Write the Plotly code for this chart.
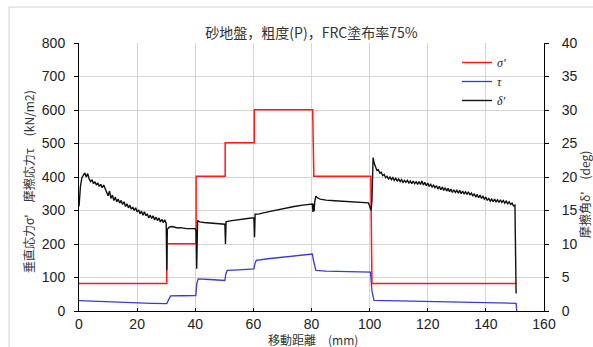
import plotly.graph_objects as go

# ---------------- data ----------------
sigma_x = [0, 30.2, 30.2, 40.3, 40.3, 50.3, 50.3, 60.3, 60.3, 80.4, 80.8, 100.4, 100.8, 150.5]
sigma_y = [82, 82, 201, 201, 402, 402, 502, 502, 601, 601, 402, 402, 82, 82]

tau_x = [0, 5, 10, 15, 20, 25, 30.2, 30.6, 31.5, 35, 40.2, 40.5, 41, 45, 50.2, 50.5, 51, 55,
         60.2, 60.5, 61, 65, 70, 75, 80.3, 80.7, 81.5, 85, 90, 95, 100.3, 100.8, 101.5,
         110, 120, 130, 140, 150.4, 150.6]
tau_y = [31, 29, 27.5, 26, 24.5, 23, 22, 30, 45, 45.5, 46, 80, 96, 94, 91, 110, 121, 123,
         126, 140, 151, 156, 161, 165, 170, 150, 121, 119, 118, 117, 116, 60, 32,
         30, 28, 26, 24.5, 23, 0]

# delta' : 0 - 30 mm, sampled every 0.5 mm
delta_a_start, delta_a_step = 0.0, 0.5
delta_a = [15.6, 18.6, 19.9, 20.3, 20.6, 20.0, 20.5, 19.7, 19.3, 19.6,
           19.0, 19.3, 18.8, 19.1, 18.6, 18.9, 18.4, 18.8, 18.3, 17.9,
           17.2, 17.9, 16.8, 17.3, 16.5, 17.0, 16.3, 16.7, 16.1, 16.5,
           15.9, 16.3, 15.6, 16.0, 15.4, 15.8, 15.2, 15.5, 15.0, 15.4,
           14.8, 15.1, 14.5, 14.9, 14.3, 14.8, 14.2, 14.5, 13.9, 14.3,
           13.8, 14.2, 13.6, 14.0, 13.5, 13.9, 13.3, 13.7, 13.2, 13.6,
           13.1]
# delta' : 30 - 102 mm
delta_b_x = [30.2, 30.4, 31, 32, 33, 34, 35, 36, 37, 38, 39, 40.0, 40.3, 40.5, 40.8, 41.5,
             43, 45, 47, 49, 50.2, 50.4, 50.6, 52, 54, 56, 58, 60.2, 60.4, 60.6, 62, 65,
             68, 71, 74, 77, 80.3, 80.5, 80.7, 80.9, 81.1, 81.5, 82, 83, 85, 88, 91, 94,
             97, 99.6, 100.2, 100.5, 100.8, 101.2, 101.6]
delta_b_y = [6.1, 12.2, 12.5, 12.6, 12.5, 12.4, 12.45, 12.35, 12.3, 12.3, 12.25, 12.3, 11.8,
             6.3, 13.5, 13.3, 13.2, 13.1, 13.05, 13.0, 12.95, 10.0, 13.3, 13.45, 13.6, 13.7,
             13.8, 13.9, 11.0, 14.45, 14.5, 14.8, 15.1, 15.35, 15.6, 15.8, 15.95, 14.8, 16.0,
             14.9, 16.3, 17.15, 16.9, 16.7, 16.55, 16.45, 16.35, 16.3, 16.25, 16.15, 15.4,
             15.0, 16.5, 22.9, 22.0]
# delta' : 102 - 150 mm, sampled every 0.5 mm
delta_c_start, delta_c_step = 102.0, 0.5
delta_c = [21.5, 21.0, 21.1, 20.6, 20.7, 20.2, 20.4, 19.9, 20.1, 19.7,
           20.0, 19.6, 19.9, 19.5, 19.8, 19.4, 19.7, 19.3, 19.6, 19.2,
           19.5, 19.2, 19.5, 19.1, 19.4, 19.0, 19.4, 19.0, 19.3, 18.9,
           19.3, 18.9, 19.4, 18.8, 19.2, 18.7, 19.1, 18.6, 18.9, 18.5,
           18.8, 18.4, 18.7, 18.2, 18.6, 18.1, 18.5, 18.0, 18.4, 17.9,
           18.3, 17.8, 18.2, 17.7, 18.1, 17.7, 18.0, 17.6, 18.0, 17.5,
           17.9, 17.5, 17.8, 17.4, 17.8, 17.3, 17.6, 17.2, 17.5, 17.0,
           17.4, 16.9, 17.3, 16.8, 17.1, 16.7, 17.0, 16.5, 16.8, 16.4,
           16.7, 16.3, 16.7, 16.3, 16.6, 16.2, 16.6, 16.2, 16.5, 16.1,
           16.4, 16.0, 16.3, 15.9, 16.1, 15.7, 15.8]
delta_end_x = [150.4]
delta_end_y = [2.6]

x_ticks = [0, 20, 40, 60, 80, 100, 120, 140, 160]
title_text = "砂地盤，粗度(P)，FRC塗布率75%"
x_title = "移動距離　(mm)"
y1_title = "垂直応力σ'　摩擦応力τ　(kN/m2)"
y2_title = "摩擦角δ'　(deg)"
legend_names = ["<i>σ'</i>", "<i>τ</i>", "<i>δ'</i>"]

# ---------------- assemble delta' ----------------
delta_x = [delta_a_start + delta_a_step * i for i in range(len(delta_a))]
delta_y = list(delta_a)
delta_x += delta_b_x
delta_y += delta_b_y
delta_x += [delta_c_start + delta_c_step * i for i in range(len(delta_c))]
delta_y += delta_c
delta_x += delta_end_x
delta_y += delta_end_y

# ---------------- layout geometry ----------------
W, H = 593, 347
L, R, T, B = 79, 49, 43, 36
PW, PH = W - L - R, H - T - B


def px(xpix):
    return (xpix - L) / PW


def py(ypix):
    return (H - B - ypix) / PH


fig = go.Figure()
fig.add_trace(go.Scatter(x=sigma_x, y=sigma_y, mode="lines", name=legend_names[0],
                         line=dict(color="#ff1a1a", width=1.5)))
fig.add_trace(go.Scatter(x=tau_x, y=tau_y, mode="lines", name=legend_names[1],
                         line=dict(color="#3a3acf", width=1.3)))
fig.add_trace(go.Scatter(x=delta_x, y=delta_y, mode="lines", name=legend_names[2],
                         yaxis="y2", line=dict(color="#111111", width=1.4)))

tickfont = dict(family="Liberation Sans, Arial, sans-serif", size=14, color="#222222")
cjk = "Noto Sans CJK JP, sans-serif"

fig.update_layout(
    width=W, height=H,
    margin=dict(l=L, r=R, t=T, b=B, pad=0),
    paper_bgcolor="white", plot_bgcolor="white",
    showlegend=True,
    legend=dict(x=px(457), y=py(48), xanchor="left", yanchor="top",
                bgcolor="rgba(0,0,0,0)", borderwidth=0,
                font=dict(family="Liberation Serif, serif", size=12, color="#222222"),
                tracegroupgap=0),
    title=dict(text=title_text, x=0.5, xref="paper", xanchor="center",
               y=1 - 33 / H, yref="container", yanchor="middle",
               font=dict(family=cjk, size=14, color="#333333")),
    xaxis=dict(range=[0, 160], tickvals=x_ticks, showgrid=True, gridcolor="#d6d6d6",
               gridwidth=1, zeroline=False, showline=True, linecolor="black", linewidth=1,
               ticks="inside", ticklen=3, tickcolor="black", tickfont=tickfont),
    yaxis=dict(range=[0, 800], dtick=100, showgrid=True, gridcolor="#d6d6d6",
               gridwidth=1, zeroline=False, showline=True, linecolor="black", linewidth=1,
               ticks="outside", ticklen=4, tickcolor="black", tickfont=tickfont,
               ticklabelstandoff=6),
    yaxis2=dict(range=[0, 40], dtick=5, overlaying="y", side="right", showgrid=False,
                zeroline=False, showline=True, linecolor="black", linewidth=1,
                ticks="outside", ticklen=4, tickcolor="black", tickfont=tickfont,
                ticklabelstandoff=10),
    annotations=[
        dict(text=x_title, xref="paper", yref="paper", x=px(313), y=py(339),
             xanchor="center", yanchor="middle", showarrow=False,
             font=dict(family=cjk, size=12, color="#333333")),
        dict(text=y1_title, xref="paper", yref="paper", x=px(28), y=py(182),
             xanchor="center", yanchor="middle", showarrow=False, textangle=-90,
             font=dict(family=cjk, size=12, color="#333333")),
        dict(text=y2_title, xref="paper", yref="paper", x=px(584), y=py(195),
             xanchor="center", yanchor="middle", showarrow=False, textangle=-90,
             font=dict(family=cjk, size=12, color="#333333")),
    ],
    shapes=[
        dict(type="line", xref="paper", yref="paper", x0=px(9), x1=px(600),
             y0=py(7), y1=py(7), line=dict(color="#d0d0d0", width=1)),
        dict(type="line", xref="paper", yref="paper", x0=px(9), x1=px(9),
             y0=py(7), y1=py(350), line=dict(color="#d0d0d0", width=1)),
    ],
)

fig.write_html("out.html", config={"displayModeBar": False},
               post_script="document.body.style.margin='0';document.body.style.overflow='hidden';")
